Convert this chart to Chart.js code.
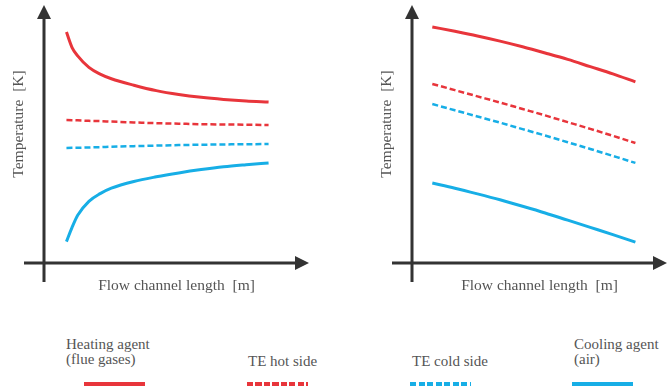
<!DOCTYPE html>
<html>
<head>
<meta charset="utf-8">
<script src="https://cdn.jsdelivr.net/npm/chart.js@4.4.1/dist/chart.umd.min.js"></script>
<style>
  body { margin: 0; background: #fff; }
  #wrap { position: relative; width: 668px; height: 387px; overflow: hidden; font-family: "Liberation Serif", serif; color: #555; font-size: 15px; }
  canvas { position: absolute; top: 0; }
  .lbl { position: absolute; line-height: 15px; white-space: nowrap; }
  .swatch { position: absolute; top: 382px; width: 61px; height: 4px; }
</style>
</head>
<body>
<div id="wrap">
  <canvas id="left" width="334" height="300" style="left:0"></canvas>
  <canvas id="right" width="334" height="300" style="left:334px"></canvas>

  <div class="lbl" style="left:66px;top:337px">Heating agent<br>(flue gases)</div>
  <div class="lbl" style="left:248px;top:354px">TE hot side</div>
  <div class="lbl" style="left:412px;top:354px">TE cold side</div>
  <div class="lbl" style="left:574px;top:337px">Cooling agent<br>(air)</div>

  <div class="swatch" style="left:84px;background:#e8353b"></div>
  <div class="swatch" style="left:247px;background:repeating-linear-gradient(90deg,#e8353b 0 6px,transparent 6px 8.5px)"></div>
  <div class="swatch" style="left:410px;background:repeating-linear-gradient(90deg,#17aee6 0 6px,transparent 6px 8.5px)"></div>
  <div class="swatch" style="left:572px;background:#17aee6"></div>
</div>

<script>
const seriesNames = ["Heating agent (flue gases)", "TE hot side", "TE cold side", "Cooling agent (air)"];
const xTitle = "Flow channel length  [m]";
const yTitle = "Temperature  [K]";

// left panel (relative units)
const leftX = [1, 1.25, 1.5, 2, 2.5, 3, 4, 5, 6, 7, 8, 9, 10];
const leftHeating = [89.5, 83.5, 80.3, 75.8, 73.2, 71.4, 68.9, 66.8, 65.3, 64.2, 63.4, 62.8, 62.4];
const leftTeHot = [55.4, 55.35, 55.3, 55.1, 55.0, 54.8, 54.5, 54.2, 54.0, 53.8, 53.7, 53.6, 53.5];
const leftTeCold = [44.6, 44.63, 44.66, 44.8, 44.9, 45.1, 45.3, 45.5, 45.7, 45.85, 45.95, 46.05, 46.1];
const leftCooling = [8.3, 13.8, 18.5, 23.9, 26.9, 29.0, 31.6, 33.4, 34.9, 36.2, 37.3, 38.1, 38.8];

// right panel
const rightX = [1, 2, 3, 4, 5, 6, 7, 8, 9, 10];
const rightHeating = [91.5, 89.8, 88.0, 86.0, 83.8, 81.4, 78.9, 76.1, 73.3, 70.2];
const rightTeHot = [69.4, 67.0, 64.6, 62.2, 59.7, 57.2, 54.6, 52.0, 49.3, 46.5];
const rightTeCold = [61.6, 59.2, 56.8, 54.4, 51.9, 49.4, 46.8, 44.2, 41.5, 38.8];
const rightCooling = [31.0, 29.0, 26.8, 24.5, 22.0, 19.4, 16.6, 13.8, 11.0, 8.1];

const RED = "#e8353b";
const BLUE = "#17aee6";
const AXIS = "#333";

function pts(xs, ys) {
  return xs.map((x, i) => ({ x: x, y: ys[i] }));
}

function ds(label, xs, ys, color, dashed) {
  return {
    label: label,
    data: pts(xs, ys),
    borderColor: color,
    borderWidth: dashed ? 2.5 : 3,
    borderDash: dashed ? [6, 3] : [],
    pointRadius: 0,
    cubicInterpolationMode: "monotone",
    fill: false
  };
}

// draws the arrow axes and the titles
const arrowAxes = {
  id: "arrowAxes",
  afterDraw(chart) {
    const ctx = chart.ctx;
    const a = chart.chartArea;
    ctx.save();
    ctx.strokeStyle = AXIS;
    ctx.fillStyle = AXIS;
    ctx.lineWidth = 3;
    // y axis
    ctx.beginPath();
    ctx.moveTo(a.left, a.bottom + 19);
    ctx.lineTo(a.left, a.top + 12);
    ctx.stroke();
    ctx.beginPath();
    ctx.moveTo(a.left, a.top);
    ctx.lineTo(a.left - 7, a.top + 14);
    ctx.lineTo(a.left + 7, a.top + 14);
    ctx.closePath();
    ctx.fill();
    // x axis
    ctx.beginPath();
    ctx.moveTo(a.left - 20, a.bottom);
    ctx.lineTo(a.right - 12, a.bottom);
    ctx.stroke();
    ctx.beginPath();
    ctx.moveTo(a.right, a.bottom);
    ctx.lineTo(a.right - 14, a.bottom - 7);
    ctx.lineTo(a.right - 14, a.bottom + 7);
    ctx.closePath();
    ctx.fill();
    // titles
    ctx.fillStyle = "#555";
    ctx.font = '15.5px "Liberation Serif"';
    ctx.textAlign = "center";
    ctx.textBaseline = "middle";
    ctx.fillText(xTitle, (a.left + a.right) / 2, a.bottom + 23);
    ctx.translate(a.left - 25, a.top + 119);
    ctx.rotate(-Math.PI / 2);
    ctx.fillText(yTitle, 0, 0);
    ctx.restore();
  }
};

function makeChart(id, xs, series, xMin, xMax, pad) {
  new Chart(document.getElementById(id), {
    type: "line",
    data: {
      datasets: [
        ds(seriesNames[0], xs, series[0], RED, false),
        ds(seriesNames[1], xs, series[1], RED, true),
        ds(seriesNames[2], xs, series[2], BLUE, true),
        ds(seriesNames[3], xs, series[3], BLUE, false)
      ]
    },
    options: {
      responsive: false,
      animation: false,
      layout: { padding: pad },
      plugins: { legend: { display: false }, tooltip: { enabled: false } },
      scales: {
        x: { type: "linear", min: xMin, max: xMax, display: false },
        y: { min: 0, max: 100, display: false }
      }
    },
    plugins: [arrowAxes]
  });
}

makeChart("left", leftX, [leftHeating, leftTeHot, leftTeCold, leftCooling], 0, 11.8,
  { left: 44, right: 25, top: 5, bottom: 37 });
makeChart("right", rightX, [rightHeating, rightTeHot, rightTeCold, rightCooling], 0.1, 11.4,
  { left: 78, right: 1, top: 5, bottom: 37 });
</script>
</body>
</html>
